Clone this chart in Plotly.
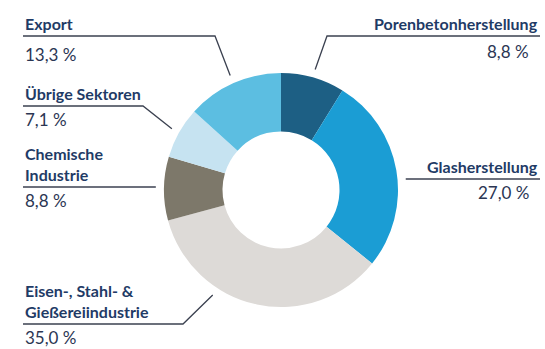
import math
import plotly.graph_objects as go

# Sector shares (percent), clockwise from 12 o'clock
sectors = [
    "Porenbetonherstellung",
    "Glasherstellung",
    "Eisen-, Stahl- &<br>Gießereiindustrie",
    "Chemische<br>Industrie",
    "Übrige Sektoren",
    "Export",
]
shares = [8.8, 27.0, 35.0, 8.8, 7.1, 13.3]
colors = ["#1d5f84", "#1b9dd4", "#dddad7", "#7d786a", "#c6e3f1", "#5cbee1"]

W, H = 545, 349
CX, CY, R = 281, 190, 117  # pie centre and radius in pixels
HOLE = 0.5

NAME_COLOR = "#1f3b66"
NUM_COLOR = "#2b3653"
LINE_COLOR = "#3b4150"
FONT = "Lato"

# label layout: side, text edge x, underline y, elbow x (None -> straight line),
# position of the leader anchor inside its slice (0..1), gap from underline
# to the centre of the value line
label_layout = [
    dict(side="right", x=540, uy=36, elbow=327, frac=0.5, gap=14),
    dict(side="right", x=540, uy=179, elbow=None, frac=0.55, gap=12),
    dict(side="left", x=23, uy=324, elbow=183, frac=0.668, gap=12.5),
    dict(side="left", x=23, uy=187, elbow=None, frac=0.5, gap=12.5),
    dict(side="left", x=23, uy=106, elbow=143, frac=0.5, gap=12.5),
    dict(side="left", x=23, uy=36, elbow=215, frac=0.5, gap=17),
]
LEADER_R = 1.07 * R


def px(x):
    return x / W


def py(y):
    return 1 - y / H


def fmt(v):
    return f"{v:.1f}".replace(".", ",") + " %"


fig = go.Figure(
    go.Pie(
        labels=sectors,
        values=shares,
        sort=False,
        direction="clockwise",
        rotation=0,
        hole=HOLE,
        marker=dict(colors=colors, line=dict(width=0)),
        textinfo="none",
        hoverinfo="label+percent",
        showlegend=False,
        domain=dict(x=[px(CX - R), px(CX + R)], y=[py(CY + R), py(CY - R)]),
    )
)

shapes = []
annotations = []
total = sum(shares)
start = 0.0
for name, val, lay in zip(sectors, shares, label_layout):
    span = val / total * 360
    theta = math.radians(start + lay["frac"] * span)
    start += span
    ax = CX + LEADER_R * math.sin(theta)
    ay = CY - LEADER_R * math.cos(theta)

    uy = lay["uy"]
    if lay["elbow"] is None:
        pts = [(lay["x"], uy), (ax, uy)]
    else:
        pts = [(lay["x"], uy), (lay["elbow"], uy), (ax, ay)]
    path = "M " + " L ".join(f"{px(x):.5f},{py(y):.5f}" for x, y in pts)
    shapes.append(dict(type="path", xref="paper", yref="paper", path=path,
                       line=dict(color=LINE_COLOR, width=1.3)))

    anchor = "right" if lay["side"] == "right" else "left"
    annotations.append(dict(
        x=px(lay["x"]), y=py(uy - 1), xref="paper", yref="paper",
        xanchor=anchor, yanchor="bottom", align=anchor,
        text=f"<b>{name}</b>", showarrow=False,
        font=dict(family=FONT, size=16, color=NAME_COLOR),
    ))
    annotations.append(dict(
        x=px(lay["x"] - (9 if anchor == "right" else 0)), y=py(uy + lay["gap"] + 1),
        xref="paper", yref="paper",
        xanchor=anchor, yanchor="middle", align=anchor,
        text=fmt(val), showarrow=False,
        font=dict(family=FONT, size=17, color=NUM_COLOR),
    ))

fig.update_layout(
    width=W, height=H,
    margin=dict(l=0, r=0, t=0, b=0),
    paper_bgcolor="white", plot_bgcolor="white",
    shapes=shapes, annotations=annotations,
)

fig.write_html("out.html")
